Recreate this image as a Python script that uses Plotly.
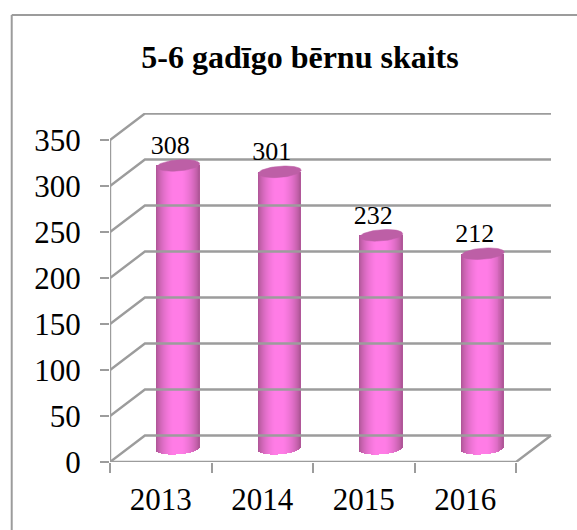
import math
import plotly.graph_objects as go

title = "5-6 gadīgo bērnu skaits"
years = ["2013", "2014", "2015", "2016"]
children = [308, 301, 232, 212]
y_ticks = [0, 50, 100, 150, 200, 250, 300, 350]

# pixel geometry of the pseudo-3D box
PX_X = 101.75          # px per category
PX_Y = 322 / 350       # px per unit
DX = 35 / PX_X         # depth in x data units
DY = 26.5 / PX_Y       # depth in y data units
BAR_W = 43             # px
ELL_H = 5.6            # px half height
TILT = 1.6             # px rise to the right, from centre to edge
GRID = "#9c9c9c"
FONT = "Liberation Serif"


def px_x(p):
    return p / PX_X


def px_y(p):
    return p / PX_Y


def shade(t):
    edge = (170, 84, 146)
    mid = (255, 124, 230)
    k = min(1.0, math.cos(t * math.pi / 2) ** 0.75 * 1.04)
    return "rgb(%d,%d,%d)" % tuple(round(e + (m - e) * k) for e, m in zip(edge, mid))


fig = go.Figure()
line = dict(color=GRID, width=2.4)

# back wall + left wall gridlines
for v in y_ticks:
    fig.add_trace(go.Scatter(x=[-0.5, -0.5 + DX, 3.5 + DX], y=[v, v + DY, v + DY],
                             mode="lines", line=line, hoverinfo="skip", cliponaxis=False))
# front edges
fig.add_trace(go.Scatter(x=[-0.5, -0.5], y=[0, 350], mode="lines", line=line,
                         hoverinfo="skip", cliponaxis=False))
fig.add_trace(go.Scatter(x=[-0.5, 3.5, 3.5 + DX], y=[0, 0, DY], mode="lines", line=line,
                         hoverinfo="skip", cliponaxis=False))

# cylinders: the side built from 1 px strips, with a curved foot
xs, bases, heights, colors = [], [], [], []
half = BAR_W / 2
for i, v in enumerate(children):
    cx = i + DX / 2
    top = v + DY / 2
    for k in range(BAR_W):
        off = -half + k + 0.5
        t = off / half
        foot = DY / 2 - px_y(ELL_H * math.sqrt(max(0, 1 - t * t)) - TILT * t)
        xs.append(cx + px_x(off))
        bases.append(foot)
        heights.append(top - foot)
        colors.append(shade(t))
fig.add_trace(go.Bar(x=xs, y=heights, base=bases, width=px_x(1.5),
                     marker=dict(color=colors, line=dict(width=0)),
                     hoverinfo="skip", cliponaxis=False))

# cylinder caps
for i, v in enumerate(children):
    cx = i + DX / 2
    top = v + DY / 2
    ex, ey = [], []
    for a in range(0, 361, 6):
        r = math.radians(a)
        c, s = math.cos(r), math.sin(r)
        ex.append(cx + px_x(half * c))
        ey.append(top + px_y(ELL_H * s + TILT * c))
    fig.add_trace(go.Scatter(x=ex, y=ey, mode="lines", fill="toself", fillcolor="#bd5fa6",
                             line=dict(color="#bd5fa6", width=0.5), hoverinfo="skip"))

# data labels
fig.add_trace(go.Scatter(
    x=[i + DX / 2 + px_x(-8) for i in range(len(years))],
    y=[v + DY / 2 + px_y(18) for v in children],
    text=[str(v) for v in children], mode="text", textposition="middle center",
    textfont=dict(family=FONT, size=26, color="black"), hoverinfo="skip", cliponaxis=False))

fig.update_layout(
    width=577, height=530, showlegend=False, barmode="overlay", bargap=0,
    paper_bgcolor="white", plot_bgcolor="white",
    margin=dict(l=109.5, r=577 - 552.5, t=113, b=530 - 462, pad=0, autoexpand=False),
    title=dict(text="<b>%s</b>" % title, x=300 / 577, xanchor="center", y=1 - 56.5 / 530, yanchor="middle",
               font=dict(family=FONT, size=32, color="black")),
    xaxis=dict(range=[-0.5, -0.5 + 443 / PX_X], tickmode="array",
               tickvals=list(range(len(years))), ticktext=years, ticks="", showgrid=False,
               zeroline=False, showline=False, ticklabelstandoff=16,
               tickfont=dict(family=FONT, size=31, color="black"),
               minor=dict(tickmode="array", tickvals=[-0.5, 0.5, 1.5, 2.5, 3.5],
                          ticks="outside", ticklen=10, tickwidth=2, tickcolor=GRID, showgrid=False)),
    yaxis=dict(range=[0, 349 / PX_Y], tickmode="array", tickvals=y_ticks,
               ticks="outside", ticklen=9, tickwidth=2, tickcolor=GRID, showgrid=False,
               zeroline=False, showline=False, ticklabelstandoff=13,
               tickfont=dict(family=FONT, size=31, color="black")),
    shapes=[
        dict(type="line", xref="paper", yref="paper", x0=-98.5 / 443, x1=1.06, y0=1 + 98 / 349, y1=1 + 98 / 349,
             line=dict(color=GRID, width=2)),
        dict(type="line", xref="paper", yref="paper", x0=-98.5 / 443, x1=-98.5 / 443, y0=-0.2, y1=1 + 98 / 349,
             line=dict(color=GRID, width=2)),
    ],
)

fig.write_html("out.html", config=dict(displayModeBar=False),
               post_script="document.body.style.margin='0';document.body.style.overflow='hidden';")
